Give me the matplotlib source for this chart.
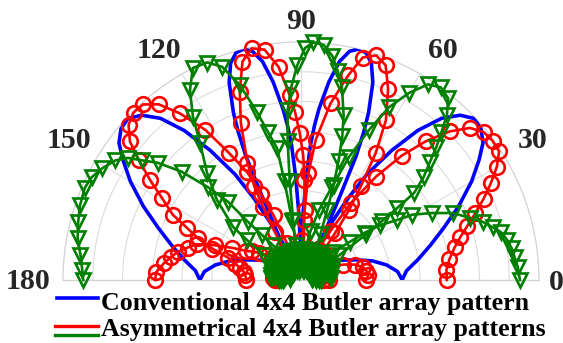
import numpy as np
import matplotlib
matplotlib.use('Agg')
import matplotlib.pyplot as plt
from matplotlib.lines import Line2D

plt.rcParams['font.family'] = ['Liberation Serif', 'DejaVu Serif']
plt.rcParams['font.weight'] = 'bold'

# ---- conventional 4x4 Butler matrix, four beams (angle in deg, gain in dB)
conv_theta_1 = [0, 5, 10, 15, 20, 25, 30, 34, 37, 40, 43, 46, 49, 52, 55, 58, 60, 62, 64, 67,
                72, 80, 90, 100, 110, 120, 130, 140, 145, 150, 155, 160, 165, 170, 175, 180]
conv_gain_1 = [-23.0, -22.2, -20.0, -17.5, -14.5, -10.8, -6.9, -3.9, -1.7, -0.5,
               -0.2, -1.5, -4.0, -8.1, -13.4, -19.0, -24.0, -29.1, -33.3, -35.8,
               -37.0, -35.6, -36.6, -35.3, -36.3, -35.0, -36.0, -35.3, -34.6, -33.6,
               -32.1, -30.1, -27.6, -25.4, -23.7, -23.0]

conv_theta_2 = [0, 10, 20, 30, 40, 50, 56, 60, 63, 65, 66, 67, 68, 70, 72, 74, 76, 78, 80, 82,
                84, 85, 86, 87, 88, 89, 91, 95, 100, 110, 120, 130, 140, 150, 160, 170, 180]
conv_gain_2 = [-36.0, -36.6, -35.3, -36.3, -35.6, -37.0, -36.6, -35.3, -32.4, -24.9,
               -17.3, -13.1, -9.7, -4.7, -1.7, -0.3, 0.0, -0.7, -2.7, -6.4,
               -11.1, -13.9, -17.3, -22.4, -28.2, -33.3, -35.8, -36.6, -35.3, -36.3,
               -35.0, -36.6, -35.6, -36.3, -35.3, -36.6, -36.0]

conv_theta_3 = [0, 10, 20, 30, 40, 50, 60, 70, 80, 85, 89, 91, 92, 93, 94, 95, 96, 98, 100, 102,
                104, 106, 108, 110, 112, 113, 114, 115, 117, 120, 124, 130, 140, 150, 160, 170, 180]
conv_gain_3 = [-36.0, -36.6, -35.3, -36.3, -35.6, -36.6, -35.0, -36.3, -35.3, -36.6,
               -35.8, -33.3, -28.2, -22.4, -17.3, -13.9, -11.1, -6.4, -2.7, -0.7,
               0.0, -0.3, -1.7, -4.7, -9.7, -13.1, -17.3, -24.9, -32.4, -35.3,
               -36.6, -37.0, -35.6, -36.3, -35.3, -36.6, -36.0]

conv_theta_4 = [0, 5, 10, 15, 20, 25, 30, 35, 40, 50, 60, 70, 80, 90, 100, 108, 113, 116, 118, 120,
                122, 125, 128, 131, 134, 137, 140, 143, 146, 150, 155, 160, 165, 170, 175, 180]
conv_gain_4 = [-23.0, -23.7, -25.4, -27.6, -30.1, -32.1, -33.6, -34.6, -35.3, -36.0,
               -35.0, -36.3, -35.3, -36.6, -35.6, -37.0, -35.8, -33.3, -29.1, -24.0,
               -19.0, -13.4, -8.1, -4.0, -1.5, -0.2, -0.5, -1.7, -3.9, -6.9,
               -10.8, -14.5, -17.5, -20.0, -22.2, -23.0]

# ---- asymmetrical 4x4 Butler matrix, set A (red)
red_theta_1 = [0, 4, 8, 12, 15, 18, 21, 24, 27, 30, 33, 36, 39, 42, 45, 48, 51, 54, 57, 59,
               61, 66, 76, 86, 96, 106, 116, 126, 136, 141, 143, 147, 150, 152, 155, 158, 161,
               164, 167, 170, 173, 177, 180]
red_gain_1 = [-15.5, -15.5, -14.8, -13.6, -12.3, -10.6, -8.6, -6.4, -4.2, -2.0,
              -0.3, -0.2, -0.5, -1.8, -4.7, -8.6, -13.1, -18.5, -24.5, -30.3,
              -34.1, -36.6, -35.3, -37.0, -35.6, -36.6, -35.3, -36.3, -35.0, -33.9,
              -33.1, -31.6, -30.4, -29.6, -27.2, -24.4, -21.5, -20.2, -18.8, -17.8,
              -16.8, -15.6, -15.5]

red_theta_2 = [0, 10, 20, 30, 40, 48, 52, 54, 55.5, 57.5, 59.5, 62, 65.5, 68.5, 71.5, 74.5, 77,
               80.5, 84, 86, 87, 88, 90, 95, 105, 115, 125, 135, 145, 155, 165, 175, 180]
red_gain_2 = [-35.3, -36.3, -35.0, -36.6, -35.5, -36.3, -34.1, -30.3, -25.7, -21.2,
              -15.3, -9.6, -4.7, -1.2, -0.2, -1.2, -4.7, -9.9, -16.3, -22.0,
              -28.2, -33.3, -35.8, -36.6, -35.3, -36.3, -35.6, -36.6, -35.3, -36.3,
              -35.6, -36.6, -36.0]

red_theta_3 = [0, 10, 20, 30, 40, 50, 60, 70, 80, 85, 87, 88, 89, 90.5, 92, 93.5, 96, 99, 102,
               105, 108, 111, 114.5, 116.5, 117.5, 118.5, 120, 125, 135, 145, 155, 165, 175, 180]
red_gain_3 = [-36.3, -35.3, -36.6, -35.6, -36.3, -35.3, -36.6, -35.6, -36.3, -35.0,
              -29.9, -23.2, -19.0, -15.3, -11.8, -8.9, -4.0, -0.8, -0.2, -2.0,
              -6.7, -11.8, -18.3, -22.4, -26.2, -30.8, -35.0, -36.3, -35.3, -36.6,
              -35.6, -36.3, -35.3, -35.6]

red_theta_4 = [0, 4, 8, 12, 16, 20, 24, 28, 35, 45, 55, 65, 75, 85, 95, 105, 111, 113, 115,
               116.5, 119.5, 122.5, 126, 129, 132, 135, 138, 141, 143.5, 146.5, 149.5, 153,
               155.5, 158, 160.5, 163, 166, 169, 172, 175, 180]
red_gain_4 = [-29.1, -28.7, -28.9, -29.4, -30.6, -32.4, -34.6, -36.3, -37.0, -35.8,
              -37.0, -36.0, -37.0, -35.6, -36.6, -35.3, -33.3, -28.2, -24.0, -19.8,
              -15.5, -10.1, -5.4, -2.0, -0.3, -0.2, -1.0, -3.0, -6.1, -9.6,
              -12.9, -15.8, -19.0, -21.3, -24.2, -27.2, -28.6, -29.6, -30.3, -30.6,
              -30.8]

# ---- asymmetrical 4x4 Butler matrix, set B (green)
green_theta_1 = [0, 4, 8, 12, 16, 20, 24, 28, 31, 33, 35, 36, 36.8, 37.6, 40, 42.5, 44.5, 46.5,
                 48.5, 51, 54, 57, 60, 63, 65.6, 68.7, 71.6, 75.6, 79, 83, 88, 92, 96, 100,
                 104, 108, 112, 116, 120, 124, 128, 132, 136, 140, 144, 148, 152, 156, 160,
                 164, 168, 172, 176, 180]
green_gain_1 = [-37.5, -35.0, -38.2, -34.8, -37.0, -35.5, -38.0, -34.9, -35.5, -32.4,
                -26.6, -23.2, -19.8, -16.0, -13.1, -10.6, -8.1, -5.7, -3.0, -0.7,
                0.0, -0.8, -3.7, -7.4, -12.3, -17.8, -23.5, -27.9, -31.6, -35.0,
                -37.6, -34.9, -36.8, -38.5, -35.2, -37.2, -34.8, -38.0, -35.6, -37.4,
                -34.9, -38.2, -35.8, -37.0, -34.8, -38.0, -35.5, -37.3, -34.9, -38.1,
                -35.7, -37.0, -35.0, -37.0]

green_theta_2 = [0, 4, 8, 12, 16, 20, 24, 28, 32, 36, 40, 44, 48, 52, 56, 60, 63, 67, 69.5,
                 71, 72.5, 74, 75.5, 78, 80, 82, 84.5, 87, 89, 91, 93, 94.5, 95.5, 96.5, 97.5,
                 99, 103, 107, 111, 115, 119, 123, 127, 131, 135, 139, 143, 147, 151, 155,
                 159, 163, 167, 171, 175, 180]
green_gain_2 = [-36.6, -38.2, -35.0, -37.4, -34.8, -38.0, -35.6, -37.2, -34.9, -38.3,
                -35.3, -37.0, -34.8, -38.1, -35.5, -37.3, -35.0, -31.6, -27.4, -23.2,
                -19.0, -14.8, -11.4, -6.9, -4.4, -2.0, -0.3, 0.0, -1.0, -3.9,
                -7.7, -11.4, -16.5, -23.2, -29.9, -34.1, -37.6, -35.0, -38.2, -35.4,
                -37.2, -34.8, -38.0, -35.6, -37.4, -34.9, -38.3, -35.3, -37.0, -34.8,
                -38.0, -35.5, -37.2, -34.9, -38.1, -36.6]

green_theta_3 = [0, 4, 8, 12, 16, 20, 24, 28, 32, 36, 40, 44, 48, 52, 56, 60, 64, 68, 72, 76,
                 80, 84, 88, 92, 95, 97, 98.5, 99.5, 100.3, 102.6, 104.7, 107.4, 110.3, 113.3,
                 117, 120.3, 123.5, 126.4, 131.3, 136.4, 142, 143.5, 146, 150, 154, 158, 162,
                 166, 170, 174, 178, 180]
green_gain_3 = [-37.0, -34.9, -38.0, -35.5, -37.3, -34.8, -38.2, -35.6, -37.0, -34.9,
                -38.3, -35.4, -37.2, -34.8, -38.0, -35.6, -37.4, -34.9, -38.2, -35.3,
                -37.0, -34.8, -38.0, -35.5, -36.6, -35.0, -29.9, -23.2, -17.5, -14.5,
                -10.8, -5.7, -1.8, -0.2, 0.0, -3.0, -7.1, -11.4, -16.1, -20.5,
                -25.5, -28.7, -32.4, -35.3, -38.0, -35.0, -37.4, -34.9, -38.1, -35.6,
                -37.2, -36.3]

green_theta_4 = [0, 3.4, 6.1, 8.6, 11, 13.6, 15.4, 17.7, 20.1, 23.8, 27.1, 30.4, 32, 34.8,
                 36.5, 38, 41, 45, 49, 53, 57, 61, 65, 69, 73, 77, 81, 85, 89, 93, 97, 101,
                 105, 109, 113, 117, 121, 125, 129, 131, 132.4, 133, 135, 137.8, 140.7, 143,
                 144.8, 147.2, 150.6, 153.9, 156.9, 161.3, 165.4, 169.3, 173.5, 177.4, 180]
green_gain_4 = [-3.2, -3.5, -3.9, -4.2, -4.7, -5.5, -6.6, -7.9, -9.7, -12.1,
                -15.3, -18.3, -21.0, -23.9, -26.6, -29.6, -32.9, -35.5, -38.0, -35.0,
                -37.4, -34.8, -38.2, -35.6, -37.0, -34.9, -38.3, -35.4, -37.2, -34.8,
                -38.0, -35.5, -37.3, -34.9, -38.1, -35.6, -37.0, -35.0, -32.4, -29.9,
                -26.7, -22.0, -18.0, -12.9, -8.9, -6.6, -4.4, -2.9, -1.7, -0.8,
                -0.5, -0.8, -1.3, -1.8, -2.7, -3.2, -3.4]

angle_ticks = [0, 30, 60, 90, 120, 150, 180]

W, H = 563, 343
fig = plt.figure(figsize=(W / 100, H / 100), dpi=100)
# polar axes keep a square box; the half disc sits in its middle band
ax = fig.add_axes([63 / W, -56 / H, 476 / W, 476 / H], projection='polar')
ax.set_thetamin(0)
ax.set_thetamax(180)
ax.set_ylim(-40, 0)
ax.set_yticks(np.arange(-35, 0, 5))
ax.set_yticklabels([])
ax.set_xticks(np.deg2rad(angle_ticks))
ax.set_xticklabels([])
ax.tick_params(length=0)
ax.grid(True, color='#dcdcdc', linewidth=0.8)
for s in ax.spines.values():
    s.set_color('#d2d2d2')
    s.set_linewidth(0.9)

blue = '#0000ff'
red = '#ff0000'
green = '#007f00'

for th, g in [(conv_theta_1, conv_gain_1), (conv_theta_2, conv_gain_2),
              (conv_theta_3, conv_gain_3), (conv_theta_4, conv_gain_4)]:
    ax.plot(np.deg2rad(th), g, color=blue, lw=2.6, zorder=3)

for th, g in [(red_theta_1, red_gain_1), (red_theta_2, red_gain_2),
              (red_theta_3, red_gain_3), (red_theta_4, red_gain_4)]:
    ax.plot(np.deg2rad(th), g, color=red, lw=1.9, marker='o', ms=10.5, mfc='none',
            mew=1.9, zorder=4, clip_on=False)

for th, g in [(green_theta_1, green_gain_1), (green_theta_2, green_gain_2),
              (green_theta_3, green_gain_3), (green_theta_4, green_gain_4)]:
    ax.plot(np.deg2rad(th), g, color=green, lw=1.9, marker='v', ms=10.5, mfc='none',
            mew=1.9, zorder=5, clip_on=False)

# angle labels just outside the rim
label_pos = {0: (-0.45, 2.9), 30: (31.1, 5.5), 60: (58.3, 5.4), 90: (90, 3.5),
             120: (121.7, 5.4), 150: (148.9, 5.5), 180: (180.4, 5.9)}
for a in angle_ticks:
    t, r = label_pos[a]
    ax.text(np.deg2rad(t), r, str(a), ha='center', va='center', fontsize=21.5,
            fontweight='bold', color='#262626', clip_on=False)

# legend drawn by hand: second entry has two stacked line samples
def fx(x):
    return x / W

def fy(y):
    return 1 - y / H

fig.add_artist(Line2D([fx(57), fx(98)], [fy(298)] * 2, color=blue, lw=2.6))
fig.add_artist(Line2D([fx(55), fx(98)], [fy(326)] * 2, color=red, lw=2.4))
fig.add_artist(Line2D([fx(55), fx(98)], [fy(335)] * 2, color=green, lw=2.4))
fig.text(fx(101), fy(310), 'Conventional 4x4 Butler array pattern', fontsize=18.6,
         fontweight='bold', va='baseline', ha='left')
fig.text(fx(101), fy(336), 'Asymmetrical 4x4 Butler array patterns', fontsize=18.6,
         fontweight='bold', va='baseline', ha='left')

fig.savefig('out.png', dpi=100)
